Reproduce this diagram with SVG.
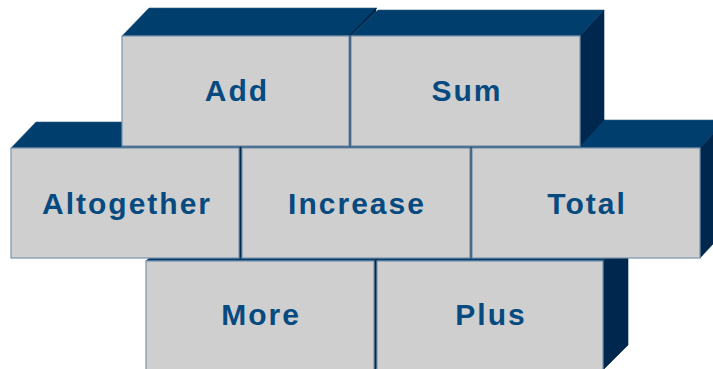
<svg xmlns="http://www.w3.org/2000/svg" width="713" height="369" viewBox="0 0 713 369">
<style>
.top{fill:#003e6d;stroke:#2d5a82;stroke-width:0.6}
.side{fill:#00284e;stroke:#00284e;stroke-width:0.6}
.front{fill:#cfcfcf;stroke:#7b93ac;stroke-width:1.2}
.lbl{font-family:"Liberation Sans",Arial,sans-serif;font-weight:bold;font-size:30px;letter-spacing:2px;fill:#064a80;text-anchor:middle}
</style>
<rect width="713" height="369" fill="#ffffff"/>
<g id="connectors"></g>
<!-- bottom row -->
<g id="more">
<polygon class="top" points="146,261 171,236 399,236 374,261"/>
<polygon class="side" points="374,261 399,236 399,346 374,371"/>
<rect class="front" x="146" y="261" width="228" height="110"/>
<text class="lbl" x="261" y="325">More</text>
</g>
<g id="plus">
<polygon class="top" points="377,261 402,236 628,236 603,261"/>
<polygon class="side" points="603,261 628,236 628,345 603,370"/>
<rect class="front" x="377" y="261" width="226" height="110"/>
<text class="lbl" x="491" y="325">Plus</text>
</g>
<!-- middle row -->
<g id="altogether">
<polygon class="top" points="11,148 36,122 265,122 240,148"/>
<polygon class="side" points="239,148 264,122 264,232 239,258"/>
<rect class="front" x="11" y="148" width="228" height="110"/>
<text class="lbl" x="127" y="214">Altogether</text>
</g>
<g id="increase">
<polygon class="top" points="242,148 267,122 495,122 470,148"/>
<polygon class="side" points="470,148 495,122 495,232 470,258"/>
<rect class="front" x="242" y="148" width="228" height="110"/>
<text class="lbl" x="357" y="214">Increase</text>
</g>
<g id="total">
<polygon class="top" points="472,148 498,120 726,120 700,148"/>
<polygon class="side" points="700,148 726,120 726,230 700,258"/>
<rect class="front" x="472" y="148" width="228" height="110"/>
<text class="lbl" x="587" y="214">Total</text>
</g>
<!-- top row -->
<g id="add">
<polygon class="top" points="122,36 149,8 377,8 350,36"/>
<polygon class="side" points="349,36 376,8 376,118 349,146"/>
<rect class="front" x="122" y="36" width="227" height="110"/>
<text class="lbl" x="237" y="101">Add</text>
</g>
<g id="sum">
<polygon class="top" points="351,36 378,10 604,10 580,36"/>
<polygon class="side" points="580,36 604,10 604,120 580,146"/>
<rect class="front" x="351" y="36" width="229" height="110"/>
<text class="lbl" x="467" y="101">Sum</text>
</g>
</svg>
